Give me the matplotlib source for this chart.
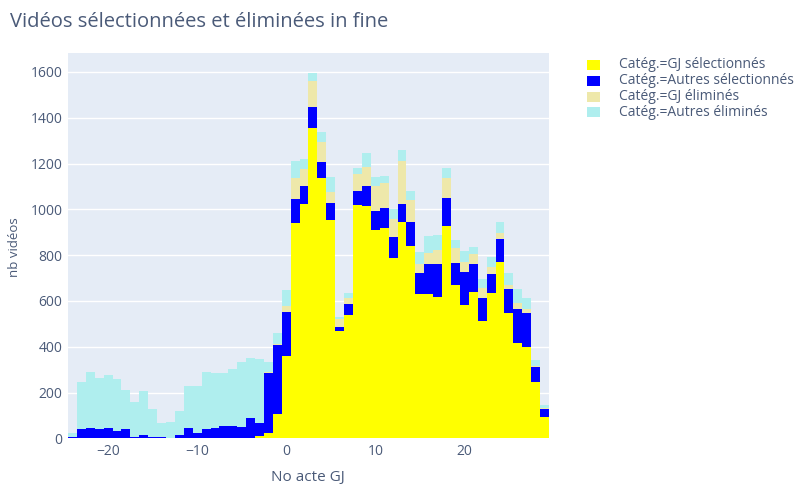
import matplotlib
matplotlib.use("Agg")
import matplotlib.pyplot as plt
from matplotlib.patches import Rectangle
import numpy as np

# bin centres (No acte GJ)
acte = [-24, -23, -22, -21, -20, -19, -18, -17, -16, -15, -14, -13, -12, -11,
        -10, -9, -8, -7, -6, -5, -4, -3, -2, -1, 0, 1, 2, 3, 4, 5, 6, 7, 8, 9,
        10, 11, 12, 13, 14, 15, 16, 17, 18, 19, 20, 21, 22, 23, 24, 25, 26, 27, 28, 29]

gj_sel = [0, 0, 0, 0, 0, 0, 0, 0, 0, 0, 0, 0, 0, 0,
          0, 0, 0, 0, 0, 0, 0, 8, 22, 106, 360, 942, 1024, 1356, 1135, 953, 467, 540, 1019, 1015,
          910, 920, 789, 946, 840, 630, 630, 618, 929, 669, 582, 640, 514, 636, 771, 546, 418, 397, 247, 94]
autres_sel = [5, 39, 44, 41, 44, 32, 42, 7, 13, 7, 4, 2, 13, 47,
              25, 39, 46, 54, 54, 51, 87, 57, 265, 301, 190, 104, 78, 92, 70, 76, 18, 45, 61, 87,
              84, 87, 91, 76, 106, 91, 130, 142, 122, 98, 146, 120, 100, 80, 98, 106, 145, 149, 66, 33]
gj_elim = [0, 0, 0, 0, 0, 0, 0, 0, 0, 0, 0, 0, 0, 0,
           0, 0, 0, 0, 0, 0, 0, 0, 2, 4, 28, 89, 75, 114, 90, 48, 35, 26, 73, 84,
           109, 109, 78, 189, 95, 40, 50, 62, 84, 63, 43, 45, 44, 33, 26, 17, 29, 17, 3, 4]
autres_elim = [20, 208, 244, 221, 232, 226, 168, 150, 194, 122, 61, 68, 106, 181,
               203, 252, 241, 230, 247, 281, 263, 281, 46, 51, 70, 78, 41, 35, 44, 63, 11, 22, 26, 59,
               37, 31, 42, 48, 39, 54, 73, 66, 44, 38, 47, 29, 36, 41, 51, 54, 59, 51, 26, 13]

series_names = ["Catég.=GJ sélectionnés", "Catég.=Autres sélectionnés",
                "Catég.=GJ éliminés", "Catég.=Autres éliminés"]
series_colors = ["#FFFF00", "#0000FF", "#EEE8AA", "#AFEEEE"]
series_values = [gj_sel, autres_sel, gj_elim, autres_elim]

title = "Vidéos sélectionnées et éliminées in fine"
xlabel = "No acte GJ"
ylabel = "nb vidéos"
xticks = [-20, -10, 0, 10, 20]
yticks = [0, 200, 400, 600, 800, 1000, 1200, 1400, 1600]

plt.rcParams['font.family'] = ['Open Sans', 'DejaVu Sans']
txt_color = "#4a5a78"

W, H = 803, 486
fig = plt.figure(figsize=(W / 100, H / 100), dpi=100)
fig.patch.set_facecolor("white")
ax = fig.add_axes([68 / W, 1 - 438.3 / H, (549 - 68) / W, (438.3 - 53.4) / H])
ax.set_facecolor("#E5ECF6")

x = np.array(acte)
bottom = np.zeros(len(x))
for vals, col, name in zip(series_values, series_colors, series_names):
    v = np.array(vals, dtype=float)
    ax.bar(x, v, width=1.0, bottom=bottom, color=col, linewidth=0, label=name, zorder=3)
    bottom += v

ax.set_xlim(-24.5, 29.5)
ax.set_ylim(0, 1681)
ax.set_xticks(xticks)
ax.set_xticklabels([f"{t}".replace("-", "\u2212") for t in xticks])
ax.set_yticks(yticks)
ax.set_yticklabels([str(t) for t in yticks])
ax.yaxis.grid(True, color="white", linewidth=1, zorder=0)
ax.xaxis.grid(False)
ax.set_axisbelow(True)
for s in ax.spines.values():
    s.set_visible(False)
ax.tick_params(axis="both", length=0, labelsize=10, colors=txt_color)
ax.tick_params(axis="x", pad=4)
ax.tick_params(axis="y", pad=4)

fig.text(308 / W, 1 - 477 / H, xlabel, ha="center", va="center", fontsize=11, color=txt_color)
fig.text(15 / W, 1 - 247 / H, ylabel, ha="center", va="center", rotation=90, fontsize=9.5, color=txt_color)
fig.text(10 / W, 1 - 22 / H, title, ha="left", va="center", fontsize=14.5, color=txt_color)

# legend
rows_y = [65, 80.7, 96.7, 112.3]
for name, col, ry in zip(series_names, series_colors, rows_y):
    fig.add_artist(Rectangle(((587) / W, 1 - (ry + 5) / H), 13 / W, 10 / H,
                             transform=fig.transFigure, facecolor=col, edgecolor="none"))
    fig.text(619 / W, 1 - ry / H, name, ha="left", va="center", fontsize=10, color=txt_color)

fig.savefig("out.png", dpi=100)
